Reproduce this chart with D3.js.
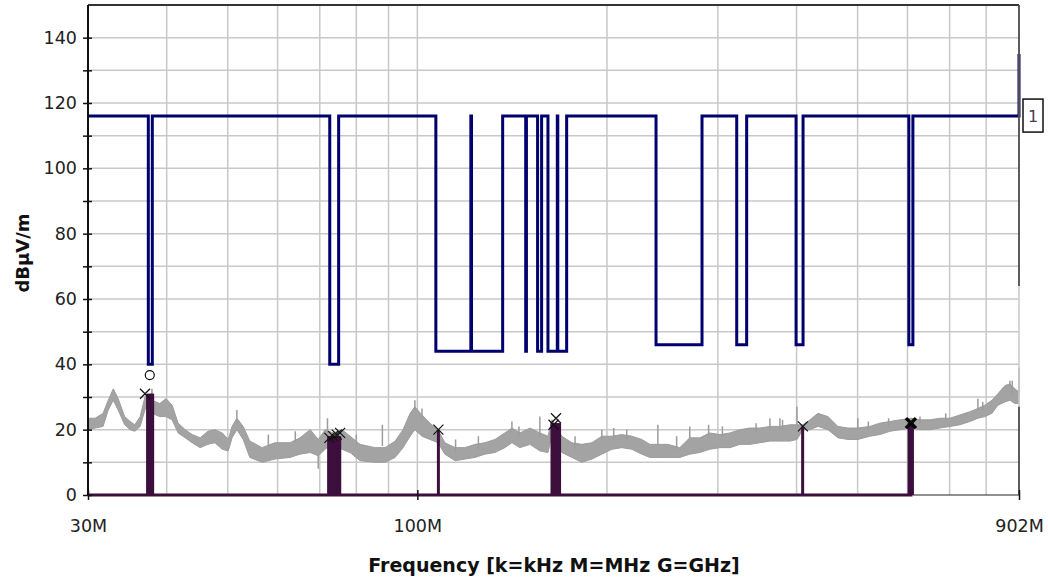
<!DOCTYPE html>
<html>
<head>
<meta charset="utf-8">
<script src="https://cdn.jsdelivr.net/npm/d3@7"></script>
<style>
  html, body { margin: 0; padding: 0; background: #fff; }
  svg { display: block; }
  text { font-family: "DejaVu Sans", Verdana, sans-serif; }
</style>
</head>
<body>
<script>
// frequencies in MHz, levels in dBµV/m

const xTickFreq = [30, 100, 902];
const xTickLabels = ['30M', '100M', '902M'];
const gridFreq = [40, 50, 60, 70, 80, 90, 100, 200, 300, 400, 500, 600, 700, 800];
const yTickValues = [0, 10, 20, 30, 40, 50, 60, 70, 80, 90, 100, 110, 120, 130, 140];

// limit line (step shape)
const limitFreq = [30, 37.4, 37.4, 37.95, 37.95, 72.6, 72.6, 75.0, 75.0,
  107.0, 107.0, 121.6, 121.6, 121.9, 121.9, 136.6, 136.6,
  148.6, 148.6, 149.0, 149.0, 155.2, 155.2, 157.5, 157.5,
  161.2, 161.2, 166.8, 166.8, 167.1, 167.1, 172.6, 172.6,
  239.3, 239.3, 283.1, 283.1, 321.4, 321.4, 333.3, 333.3,
  399.3, 399.3, 409.6, 409.6, 603, 603, 612, 612, 902, 902];
const limitLevel = [116, 116, 40, 40, 116, 116, 40, 40, 116,
  116, 44, 44, 116, 116, 44, 44, 116,
  116, 44, 44, 116, 116, 44, 44, 116,
  116, 44, 44, 116, 116, 44, 44, 116,
  116, 46, 46, 116, 116, 46, 46, 116,
  116, 46, 46, 116, 116, 46, 46, 116, 116, 135];

// measured trace, upper and lower edge of the noise band
const traceFreq = [30, 30.8, 31.7, 32.3, 32.9, 33.5, 34.3, 35.0, 35.6, 36.3, 37.0, 37.9,
  39.0, 39.9, 40.8, 41.7, 42.8, 43.9, 45.2, 46.5, 47.7, 49.0, 50.1, 50.8, 51.7, 52.9,
  54.2, 56.7, 59.4, 62.8, 65.1, 67.6, 69.6, 71.4, 73.5, 75.9, 78.2, 81.1, 85.7, 88.9,
  92.2, 94.9, 97.4, 99.1, 101.7, 104.7, 107.8, 110.6, 114.8, 119.0, 123.5, 128.0,
  132.8, 137.7, 141.3, 145.5, 150.9, 156.5, 161.2, 163.6, 169.6, 175.9, 182.5, 189.3,
  196.3, 203.6, 211.2, 219.0, 227.2, 233.9, 240.9, 249.8, 261.0, 270.7, 280.8, 291.2,
  302.3, 313.6, 325.3, 337.4, 349.9, 362.9, 376.4, 390.4, 400.6, 409.4, 420.1, 432.5,
  448.6, 465.3, 482.6, 500.5, 523.0, 542.4, 562.6, 583.5, 607.6, 628.0, 651.4, 675.6,
  700.7, 726.8, 753.8, 776.2, 796.3, 817.0, 835.1, 856.8, 872.6, 888.7, 902];
const traceHi = [23.5, 23.5, 25, 29, 32.5, 29.5, 24, 22.5, 21.5, 24, 30.5, 29,
  28, 29.5, 27.5, 22, 20, 18.5, 17.5, 19.5, 20, 19, 17, 21, 23.5, 21,
  16.5, 14.5, 16, 16, 17.5, 20, 17, 20, 19, 20, 18, 15.5, 14.5, 14.5,
  16.5, 20, 25, 27, 24.5, 22, 20, 16, 14.5, 14.5, 15.5, 16,
  17, 19, 20.5, 19, 20.5, 19, 18, 23, 18, 16, 15.5, 16,
  18, 18, 18.5, 18, 17, 15.5, 15.5, 15.5, 14.5, 17.5, 17.5, 19,
  18.5, 19, 20, 20.5, 20.5, 21, 21, 21.5, 21.5, 21.5, 23, 25,
  24, 21, 20.5, 20.5, 21, 22, 22.5, 23, 23.5, 23, 23, 23.5,
  23.5, 24.5, 25.5, 26.5, 27.5, 29, 31, 33.5, 34, 32.5, 31.5];
const traceLo = [20, 20.5, 21, 26, 29, 26, 21.5, 20, 19.5, 21, 26.5, 25,
  24, 24, 23, 19, 17.5, 16, 14.5, 15.5, 16, 14, 13.5, 17.5, 20, 17,
  11.5, 10, 11, 11.5, 12.5, 13, 12, 14, 16, 14, 13, 10.5, 10, 10,
  11.5, 14.5, 18, 20, 18, 17, 16, 12.5, 10.5, 11, 11.5, 12.5,
  13, 14.5, 16, 14.5, 15.5, 13.5, 13, 18.5, 13, 11.5, 10, 11,
  12.5, 14, 14.5, 14, 12.5, 11.5, 11.5, 11.5, 11.5, 12.5, 13, 14,
  14.5, 14.5, 15.5, 15.5, 16, 16.5, 16.5, 16.5, 17, 20, 20, 21,
  20, 17.5, 17, 17, 18, 18.5, 19.5, 20, 20.5, 20, 20, 20.5,
  21, 21.5, 22.5, 23.5, 24, 25, 27.5, 28.5, 29, 28, 28];

// single spikes sticking out of the band
const spikeFreq = [37.9, 51.7, 58.0, 64.0, 69.6, 72.0, 80.0, 88.0, 99.1, 101.7, 115.0, 125.0,
  141.3, 145.0, 156.5, 178.0, 196.3, 205.0, 215.0, 240.9, 258.0, 270.7, 290.0, 305.0,
  345.0, 362.9, 376.4, 380.0, 400.6, 500.5, 520.0, 560.0, 628.0, 690.0, 776.2, 790.0,
  872.6, 880.0, 902];
const spikeFrom = [28, 22, 15, 16, 12, 19, 15, 15, 26, 23, 13, 14,
  20, 18, 18, 14, 17, 17, 17, 15, 14, 17, 18, 18,
  19, 20, 20, 20, 21, 20, 20, 21, 22, 23, 26, 26,
  33, 31, 31];
const spikeTo = [32.5, 26, 18.5, 19.5, 8, 23.5, 18.5, 21.5, 29, 26.5, 17, 18,
  22.5, 21, 24, 18, 20, 20.5, 20, 21.5, 18, 21, 21.5, 21,
  22, 23.5, 23.5, 23, 27, 23.5, 22.5, 23.5, 24, 25, 29.5, 28.5,
  35, 35, 39];

// final measurement stems
const stemFreq = [37.3, 37.5, 37.7, 37.9, 38.0, 72.3, 72.8, 73.3, 73.8, 74.3, 74.8, 75.3,
  108.0, 163.6, 164.8, 166.0, 167.2, 168.2, 409.0, 603.5, 606, 608.5, 611];
const stemLevel = [31, 31, 31, 31, 31, 18, 18, 18, 18, 18, 18, 18,
  20, 22, 22, 22, 22, 22, 21, 22, 22, 22, 22];

// cross markers
const markFreq = [36.95, 72.5, 73.5, 74.5, 75.4, 108.0, 164.5, 166.0, 409.4];
const markLevel = [31, 17.5, 18, 18.5, 19, 20, 21.5, 23.5, 21];
const boldMarkFreq = [607.6];
const boldMarkLevel = [22];
// circle marker (peak)
const peakFreq = [37.6];
const peakLevel = [36.7];

const width = 1048, height = 581;
const plotLeft = 88, plotRight = 1019, plotTop = 5, plotBottom = 495;

const svg = d3.select('body').append('svg')
  .attr('width', width)
  .attr('height', height);

const x = d3.scaleLog().domain([30, 902]).range([plotLeft, plotRight]);
const y = d3.scaleLinear().domain([0, 150]).range([plotBottom, plotTop]);

/** grid */
const grid = svg.append('g').attr('stroke', '#c8c8c8').attr('stroke-width', 1.5);
grid.selectAll('line.v')
  .data(gridFreq)
  .enter().append('line')
  .attr('class', 'v')
  .attr('x1', d => x(d)).attr('x2', d => x(d))
  .attr('y1', plotTop).attr('y2', plotBottom);
grid.selectAll('line.h')
  .data(yTickValues.filter(d => d > 0))
  .enter().append('line')
  .attr('class', 'h')
  .attr('x1', plotLeft).attr('x2', plotRight)
  .attr('y1', d => y(d)).attr('y2', d => y(d));

/** measured trace */
const trace = traceFreq.map((f, i) => ({ f, hi: traceHi[i], lo: traceLo[i] }));
svg.append('path')
  .datum(trace)
  .attr('fill', '#a3a3a3')
  .attr('stroke', '#9c9c9c')
  .attr('stroke-width', 1)
  .attr('d', d3.area().x(d => x(d.f)).y0(d => y(d.lo)).y1(d => y(d.hi)));

svg.append('g')
  .attr('stroke', '#9c9c9c')
  .attr('stroke-width', 1.5)
  .selectAll('line')
  .data(spikeFreq.map((f, i) => ({ f, a: spikeFrom[i], b: spikeTo[i] })))
  .enter().append('line')
  .attr('x1', d => x(d.f)).attr('x2', d => x(d.f))
  .attr('y1', d => y(d.a)).attr('y2', d => y(d.b));

/** limit line */
const limit = limitFreq.map((f, i) => [f, limitLevel[i]]);
svg.append('path')
  .datum(limit)
  .attr('fill', 'none')
  .attr('stroke', '#00006e')
  .attr('stroke-width', 3)
  .attr('stroke-linejoin', 'miter')
  .attr('d', d3.line().x(d => x(d[0])).y(d => y(d[1])));

/** stems */
svg.append('g')
  .attr('stroke', '#3d0f3d')
  .attr('stroke-width', 3)
  .selectAll('line')
  .data(stemFreq.map((f, i) => ({ f, v: stemLevel[i] })))
  .enter().append('line')
  .attr('x1', d => x(d.f)).attr('x2', d => x(d.f))
  .attr('y1', y(0)).attr('y2', d => y(d.v));

// baseline of stems
svg.append('line')
  .attr('x1', plotLeft).attr('x2', x(d3.max(stemFreq)))
  .attr('y1', y(0)).attr('y2', y(0))
  .attr('stroke', '#3d0f3d')
  .attr('stroke-width', 3);
svg.append('line')
  .attr('x1', x(d3.max(stemFreq))).attr('x2', plotRight)
  .attr('y1', y(0)).attr('y2', y(0))
  .attr('stroke', '#222')
  .attr('stroke-width', 1);

/** markers */
const cross = s => `M${-s},${-s}L${s},${s}M${-s},${s}L${s},${-s}`;
svg.append('g')
  .selectAll('path')
  .data(markFreq.map((f, i) => ({ f, v: markLevel[i] })))
  .enter().append('path')
  .attr('transform', d => `translate(${x(d.f)},${y(d.v)})`)
  .attr('d', cross(5))
  .attr('stroke', '#111')
  .attr('stroke-width', 1.2)
  .attr('fill', 'none');
svg.append('g')
  .selectAll('path')
  .data(boldMarkFreq.map((f, i) => ({ f, v: boldMarkLevel[i] })))
  .enter().append('path')
  .attr('transform', d => `translate(${x(d.f)},${y(d.v)})`)
  .attr('d', cross(5))
  .attr('stroke', '#000')
  .attr('stroke-width', 3.5)
  .attr('fill', 'none');
svg.append('g')
  .selectAll('circle')
  .data(peakFreq.map((f, i) => ({ f, v: peakLevel[i] })))
  .enter().append('circle')
  .attr('cx', d => x(d.f)).attr('cy', d => y(d.v))
  .attr('r', 4.5)
  .attr('fill', 'none')
  .attr('stroke', '#111')
  .attr('stroke-width', 1.2);

/** frame */
svg.append('line')
  .attr('x1', plotLeft).attr('x2', plotRight).attr('y1', plotTop).attr('y2', plotTop)
  .attr('stroke', '#333').attr('stroke-width', 2);
svg.append('line')
  .attr('x1', plotRight).attr('x2', plotRight).attr('y1', plotTop).attr('y2', plotBottom)
  .attr('stroke', '#c8c8c8').attr('stroke-width', 1.5);
svg.append('g')
  .attr('stroke', '#333').attr('stroke-width', 1.5)
  .selectAll('line')
  .data([[150, 64], [27, 0]])
  .enter().append('line')
  .attr('x1', plotRight).attr('x2', plotRight)
  .attr('y1', d => y(d[0])).attr('y2', d => y(d[1]));

/** y axis */
const yAxis = svg.append('g')
  .attr('transform', `translate(${plotLeft},0)`)
  .call(d3.axisLeft(y)
    .tickValues(yTickValues)
    .tickSize(5)
    .tickPadding(6)
    .tickFormat(d => d % 20 ? '' : d));
yAxis.select('.domain').remove();
yAxis.selectAll('.tick line').attr('x1', 4).attr('stroke', '#111').attr('stroke-width', 1.5);
yAxis.selectAll('.tick text')
  .attr('font-family', '"DejaVu Sans", sans-serif')
  .attr('font-size', 17.5)
  .attr('fill', '#222');
svg.append('line')
  .attr('x1', plotLeft).attr('x2', plotLeft).attr('y1', plotTop).attr('y2', plotBottom)
  .attr('stroke', '#111').attr('stroke-width', 2);

/** x axis */
const xAxis = svg.append('g')
  .attr('transform', `translate(0,${plotBottom})`)
  .call(d3.axisBottom(x)
    .tickValues(xTickFreq)
    .tickSize(5)
    .tickPadding(20)
    .tickFormat((d, i) => xTickLabels[i]));
xAxis.select('.domain').remove();
xAxis.selectAll('.tick line').attr('y1', -5).attr('stroke', '#111').attr('stroke-width', 1.5);
xAxis.selectAll('.tick text')
  .attr('font-family', '"DejaVu Sans", sans-serif')
  .attr('font-size', 17.5)
  .attr('fill', '#222');

/** titles */
svg.append('text')
  .attr('x', 554)
  .attr('y', 572)
  .attr('text-anchor', 'middle')
  .attr('font-size', 19)
  .attr('font-weight', 'bold')
  .attr('fill', '#111')
  .text('Frequency [k=kHz M=MHz G=GHz]');

svg.append('text')
  .attr('transform', `translate(29,${(plotTop + plotBottom) / 2 + 3}) rotate(-90)`)
  .attr('text-anchor', 'middle')
  .attr('font-size', 18)
  .attr('font-weight', 'bold')
  .attr('fill', '#111')
  .text('dBµV/m');

/** limit line label */
const tag = svg.append('g')
  .attr('transform', `translate(${x(902) + 4},${y(116)})`);
tag.append('rect')
  .attr('x', 0).attr('y', -17)
  .attr('width', 20).attr('height', 33)
  .attr('fill', '#fff')
  .attr('stroke', '#111')
  .attr('stroke-width', 1.5);
tag.append('text')
  .attr('x', 10).attr('y', 6)
  .attr('text-anchor', 'middle')
  .attr('font-size', 16)
  .attr('fill', '#4a3a55')
  .text('1');
</script>
</body>
</html>
